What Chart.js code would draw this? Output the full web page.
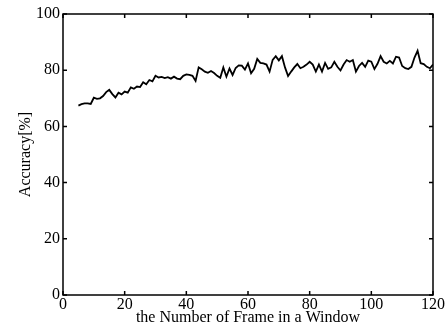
<!DOCTYPE html>
<html>
<head>
<meta charset="utf-8">
<script src="https://cdn.jsdelivr.net/npm/chart.js@4"></script>
<style>
  html, body { margin: 0; padding: 0; background: #fff; }
  #wrap { width: 448px; height: 332px; }
</style>
</head>
<body>
<div id="wrap"><canvas id="accChart" width="448" height="332"></canvas></div>
<script>
// frames per window (x) and accuracy in % (y)
const frames = [
    5, 6, 7, 8, 9, 10, 11, 12, 13, 14, 15, 16, 17, 18, 19, 20,
    21, 22, 23, 24, 25, 26, 27, 28, 29, 30, 31, 32, 33, 34, 35, 36, 37, 38, 39, 40,
    41, 42, 43, 44, 45, 46, 47, 48, 49, 50, 51, 52, 53, 54, 55, 56, 57, 58, 59, 60,
    61, 62, 63, 64, 65, 66, 67, 68, 69, 70, 71, 72, 73, 74, 75, 76, 77, 78, 79, 80,
    81, 82, 83, 84, 85, 86, 87, 88, 89, 90, 91, 92, 93, 94, 95, 96, 97, 98, 99, 100,
    101, 102, 103, 104, 105, 106, 107, 108, 109, 110, 111, 112, 113, 114, 115, 116, 117, 118, 119, 120
];
const accuracy = [
    67.4, 67.9, 68.2, 68.2, 68.0, 70.2, 69.8, 70.0, 70.8, 72.2, 73.0, 71.5, 70.3, 72.0, 71.4, 72.4,
    72.0, 73.9, 73.4, 74.2, 74.0, 75.7, 75.0, 76.5, 76.0, 78.0, 77.4, 77.6, 77.2, 77.5, 77.0, 77.7, 77.0, 76.8, 78.0, 78.5,
    78.3, 78.0, 76.2, 81.0, 80.3, 79.5, 79.1, 79.7, 79.0, 78.0, 77.3, 81.0, 77.7, 80.6, 78.3, 80.8, 81.7, 81.6, 80.2, 82.4,
    78.9, 80.5, 84.0, 82.6, 82.4, 82.0, 79.5, 83.7, 85.0, 83.5, 85.0, 81.0, 77.9, 79.5, 81.0, 82.2, 80.7, 81.2, 82.0, 83.0,
    82.0, 79.5, 82.0, 79.5, 82.6, 80.5, 81.0, 83.0, 81.2, 79.9, 82.0, 83.6, 83.0, 83.6, 79.5, 81.5, 82.6, 81.2, 83.4, 83.0,
    80.4, 82.3, 85.0, 83.0, 82.4, 83.3, 82.4, 84.8, 84.5, 81.5, 80.7, 80.4, 81.2, 84.5, 86.9, 82.5, 82.2, 81.2, 80.7, 82.0
];
const xTicks = [0, 20, 40, 60, 80, 100, 120];
const yTicks = [0, 20, 40, 60, 80, 100];

const fontFamily = "'Liberation Serif', 'DejaVu Serif', serif";

// matlab-like box with inward ticks on all four sides
const frameBox = {
    id: 'frameBox',
    afterDraw(chart) {
        const { ctx, chartArea: a, scales: { x, y } } = chart;
        const len = 4;
        ctx.save();
        ctx.strokeStyle = '#000';
        ctx.lineWidth = 1.5;
        ctx.strokeRect(a.left, a.top, a.right - a.left, a.bottom - a.top);
        ctx.beginPath();
        xTicks.forEach(v => {
            const px = x.getPixelForValue(v);
            ctx.moveTo(px, a.bottom); ctx.lineTo(px, a.bottom - len);
            ctx.moveTo(px, a.top); ctx.lineTo(px, a.top + len);
        });
        yTicks.forEach(v => {
            const py = y.getPixelForValue(v);
            ctx.moveTo(a.left, py); ctx.lineTo(a.left + len, py);
            ctx.moveTo(a.right, py); ctx.lineTo(a.right - len, py);
        });
        ctx.stroke();
        ctx.restore();
    }
};

const ctx = document.getElementById('accChart').getContext('2d');
new Chart(ctx, {
    type: 'line',
    data: {
        datasets: [{
            data: frames.map((f, i) => ({ x: f, y: accuracy[i] })),
            borderColor: '#000',
            borderWidth: 1.8,
            pointRadius: 0,
            tension: 0,
            fill: false
        }]
    },
    options: {
        responsive: false,
        animation: false,
        devicePixelRatio: 1,
        layout: { padding: { top: 14, right: 15, left: 0, bottom: 0 } },
        plugins: {
            legend: { display: false },
            tooltip: { enabled: false }
        },
        scales: {
            x: {
                type: 'linear',
                min: 0,
                max: 120,
                afterBuildTicks: s => { s.ticks = xTicks.map(v => ({ value: v })); },
                afterFit: s => { s.height = 37; },
                grid: { display: false, drawTicks: false },
                border: { display: false },
                ticks: { color: '#000', padding: 0, maxRotation: 0, font: { family: fontFamily, size: 16 } },
                title: {
                    display: true,
                    text: 'the Number of Frame in a Window',
                    color: '#000',
                    padding: { top: 0, bottom: 5 },
                    font: { family: fontFamily, size: 16 }
                }
            },
            y: {
                min: 0,
                max: 100,
                afterBuildTicks: s => { s.ticks = yTicks.map(v => ({ value: v })); },
                afterFit: s => { s.width = 63; },
                grid: { display: false, drawTicks: false },
                border: { display: false },
                ticks: { color: '#000', padding: 3, font: { family: fontFamily, size: 16 } },
                title: {
                    display: true,
                    text: 'Accuracy[%]',
                    color: '#000',
                    padding: { top: 16, bottom: 0 },
                    font: { family: fontFamily, size: 16 }
                }
            }
        }
    },
    plugins: [frameBox]
});
</script>
</body>
</html>
